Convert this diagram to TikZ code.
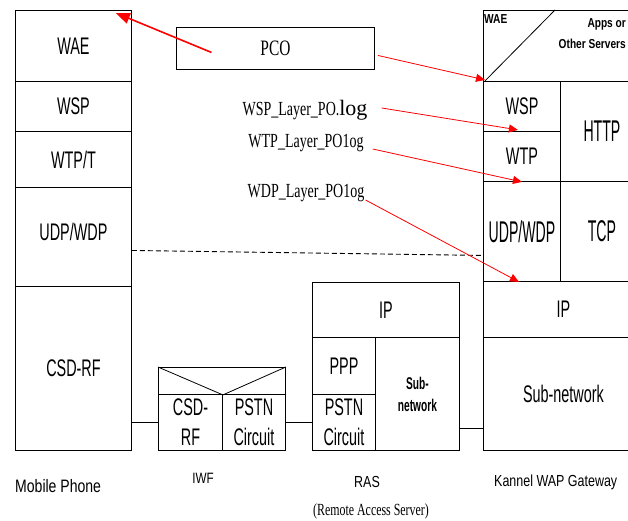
\documentclass[tikz,border=0pt]{standalone}
\usepackage{fontspec}
\setmainfont{Liberation Serif}
\newfontfamily\condsf[FakeStretch=0.6]{Liberation Sans}
\newfontfamily\wapsf[FakeStretch=0.47]{Liberation Sans}
\newfontfamily\labsf[FakeStretch=0.78]{Liberation Sans}
\newfontfamily\condrm[FakeStretch=0.7]{Liberation Serif}
\usetikzlibrary{arrows.meta,calc}
\tikzset{
  layer/.style   = {draw, line width=0.9pt, rectangle, inner sep=0pt,
                    anchor=north west, align=center,
                    font=\condsf\fontsize{24}{30}\selectfont},
  bigsf/.style   = {font=\wapsf\fontsize{30}{32}\selectfont},
  logarr/.style  = {-{Triangle[length=9pt,width=8pt]}, red, line width=0.8pt},
  pcoarr/.style  = {-{Triangle[length=14pt,width=11pt]}, red, line width=1.6pt},
  loglab/.style  = {font=\condrm\fontsize{20}{22}\selectfont, inner sep=0pt},
  caption/.style = {font=\labsf\fontsize{18}{20}\selectfont, inner sep=0pt},
  link/.style    = {line width=0.8pt},
}
\begin{document}
\begin{tikzpicture}[x=1pt, y=-1pt]
\useasboundingbox (0,0) rectangle (628,521);
\clip (0,0) rectangle (628,521);

% mobile phone stack
\node[layer, minimum width=116pt, minimum height=71pt]  (mwae) at (15,10)  {WAE};
\node[layer, minimum width=116pt, minimum height=50pt]  (mwsp) at (15,81)  {WSP};
\node[layer, minimum width=116pt, minimum height=56pt]  (mwtp) at (15,131) {WTP/T};
\node[layer, minimum width=116pt, minimum height=99pt]  (mudp) at (15,187) {\raisebox{10pt}{UDP/WDP}};
\node[layer, minimum width=116pt, minimum height=164pt] (mcsd) at (15,286) {CSD-RF};

% IWF
\node[layer, minimum width=127pt, minimum height=27pt] (itop)  at (158,367) {};
\node[layer, minimum width=64pt,  minimum height=56pt] (icsd)  at (158,394) {CSD-\\RF};
\node[layer, minimum width=63pt,  minimum height=56pt] (ipstn) at (222,394) {PSTN\\Circuit};
\draw[link] (itop.north west) -- (itop.south west -| icsd.east) -- (itop.north east);

% RAS
\node[layer, minimum width=147pt, minimum height=55pt] (rip)   at (312,282) {IP};
\node[layer, minimum width=63pt,  minimum height=57pt] (rppp)  at (312,337) {PPP};
\node[layer, minimum width=63pt,  minimum height=56pt] (rpstn) at (312,394) {PSTN\\Circuit};
\node[layer, minimum width=84pt,  minimum height=113pt,
      font=\condsf\bfseries\fontsize{17}{22}\selectfont] (rsub) at (375,337) {Sub-\\network};

% Kannel WAP gateway
\node[layer, minimum width=160pt, minimum height=71pt]  (gwae)  at (483,10)  {};
\node[layer, minimum width=77pt,  minimum height=50pt]  (gwsp)  at (483,81)  {WSP};
\node[layer, minimum width=77pt,  minimum height=50pt]  (gwtp)  at (483,131) {WTP};
\node[layer, bigsf, minimum width=83pt, minimum height=100pt] (ghttp) at (560,81)  {HTTP};
\node[layer, bigsf, minimum width=77pt, minimum height=100pt] (gudp)  at (483,181) {UDP/WDP};
\node[layer, bigsf, minimum width=83pt, minimum height=100pt] (gtcp)  at (560,181) {TCP};
\node[layer, minimum width=160pt, minimum height=56pt]  (gip)   at (483,281) {IP};
\node[layer, minimum width=160pt, minimum height=113pt] (gsub)  at (483,337) {Sub-network};
\draw[link] ($(gwae.north west)+(72,0)$) -- ($(gwae.south west)+(2,-1)$);
\node[font=\labsf\bfseries\fontsize{13}{15}\selectfont, anchor=north west,
      inner sep=0pt] (gwaelab) at (484,14) {WAE};
\node[font=\labsf\bfseries\fontsize{13}{21}\selectfont, anchor=north east,
      align=right, inner sep=0pt] (apps) at (626,18) {Apps or\\Other Servers};

% links between the boxes
\coordinate (gl) at (0,428);
\draw[link] (icsd.west) -- (icsd.west -| mcsd.east);
\draw[link] (ipstn.east) -- (ipstn.east -| rpstn.west);
\draw[link] (rsub.east |- gl) -- (gsub.west |- gl);
\draw[dashed, dash pattern=on 5pt off 3pt, line width=0.9pt]
  ([yshift=-13.5pt]mudp.east) -- ([yshift=-24pt]gudp.west);

% PCO and log files
\node[layer, minimum width=198pt, minimum height=42pt,
      font=\condrm\fontsize{22}{24}\selectfont] (pco) at (176,27) {PCO};
\node[loglab] (wsplog) at (305,110)
  {WSP\_Layer\_PO.{\rmfamily\fontsize{22}{22}\selectfont log}};
\node[loglab] (wtplog) at (306,143) {WTP\_Layer\_PO1og};
\node[loglab] (wdplog) at (306,193) {WDP\_Layer\_PO1og};

\draw[pcoarr] ($(pco.center)+(-64,4)$) -- ($(mwae.north east)+(-16,3)$);
\draw[logarr] ($(pco.east)+(3,7)$) -- ($(gwae.south west)+(2,-2)$);
\draw[logarr] ($(wsplog.east)+(14,-2)$) -- ($(gwsp.south)+(-4,-2)$);
\draw[logarr] ($(wtplog.east)+(9,6)$) -- (gwtp.south);
\draw[logarr] ($(wdplog.east)+(1,7)$) -- ($(gudp.south)+(-3,0)$);

% captions
\node[caption, anchor=west] (mcap) at (15,486) {Mobile Phone};
\node[caption, font=\labsf\fontsize{15}{17}\selectfont] (iwfcap) at (203,478) {IWF};
\node[caption, font=\labsf\fontsize{16}{18}\selectfont] (rascap) at (367,482) {RAS};
\node[loglab, font=\condrm\fontsize{17}{19}\selectfont] (rasfull) at (371,511)
  {(Remote Access Server)};
\node[caption, font=\labsf\fontsize{16}{18}\selectfont, anchor=west] (gcap) at (494,482)
  {Kannel WAP Gateway};
\end{tikzpicture}
\end{document}
